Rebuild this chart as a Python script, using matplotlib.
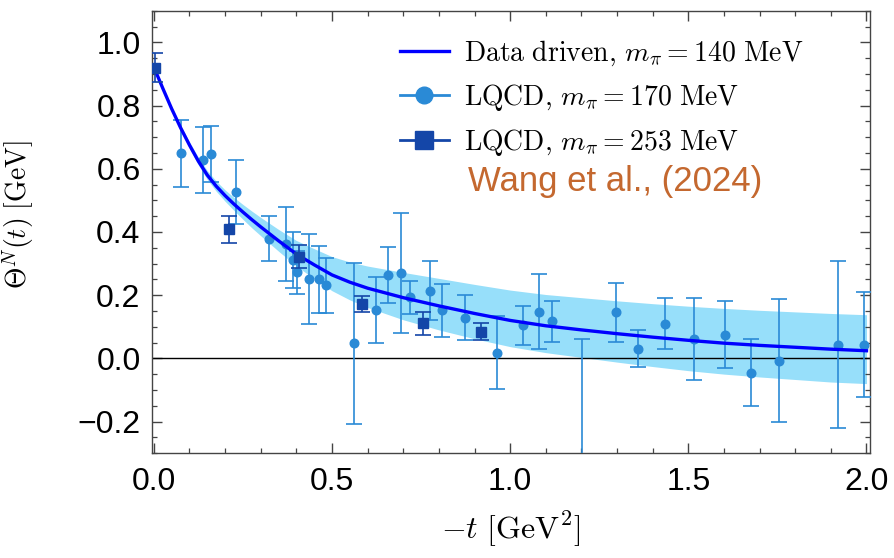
# Theta^N(t): data driven curve vs LQCD points
import matplotlib
matplotlib.use('Agg')
import matplotlib.pyplot as plt
from matplotlib.lines import Line2D
from matplotlib.ticker import MultipleLocator

plt.rcParams['font.family'] = ['Liberation Sans', 'DejaVu Sans']
plt.rcParams['mathtext.fontset'] = 'cm'

# data driven curve (m_pi = 140 MeV) with its band
t_curve = [0, 0.025, 0.05, 0.075, 0.1, 0.125, 0.15, 0.175, 0.2, 0.225, 0.25, 0.275, 0.3,
           0.35, 0.4, 0.45, 0.5, 0.55, 0.6, 0.7, 0.8, 0.9, 1.0, 1.1, 1.2, 1.3, 1.4, 1.5,
           1.6, 1.7, 1.8, 1.9, 2.0]
theta_curve = [0.922, 0.855, 0.790, 0.730, 0.675, 0.624, 0.580, 0.545, 0.515, 0.488, 0.463,
               0.439, 0.416, 0.372, 0.330, 0.296, 0.264, 0.241, 0.222, 0.192, 0.166, 0.142,
               0.120, 0.103, 0.090, 0.078, 0.067, 0.057, 0.048, 0.041, 0.035, 0.029, 0.024]
band_upper = [0.922, 0.859, 0.796, 0.738, 0.685, 0.636, 0.594, 0.561, 0.533, 0.509, 0.487,
              0.466, 0.446, 0.408, 0.373, 0.347, 0.322, 0.305, 0.292, 0.272, 0.253, 0.234,
              0.216, 0.202, 0.192, 0.182, 0.173, 0.165, 0.158, 0.152, 0.147, 0.142, 0.138]
band_lower = [0.922, 0.851, 0.784, 0.722, 0.665, 0.612, 0.566, 0.529, 0.497, 0.468, 0.440,
              0.413, 0.388, 0.339, 0.292, 0.252, 0.214, 0.185, 0.161, 0.122, 0.090, 0.062,
              0.037, 0.018, 0.003, -0.012, -0.026, -0.039, -0.050, -0.059, -0.067, -0.075,
              -0.080]

# LQCD, m_pi = 170 MeV
t_170 = [0.075, 0.137, 0.160, 0.231, 0.324, 0.371, 0.391, 0.403, 0.436, 0.464, 0.482,
         0.561, 0.623, 0.656, 0.694, 0.719, 0.774, 0.808, 0.873, 0.962, 1.035, 1.081,
         1.117, 1.203, 1.297, 1.359, 1.434, 1.516, 1.604, 1.677, 1.755, 1.919, 1.993]
theta_170 = [0.649, 0.628, 0.647, 0.526, 0.379, 0.362, 0.312, 0.272, 0.252, 0.250, 0.231,
             0.047, 0.153, 0.264, 0.270, 0.193, 0.214, 0.152, 0.129, 0.018, 0.104, 0.148,
             0.117, -0.36, 0.146, 0.031, 0.109, 0.060, 0.075, -0.046, -0.007, 0.043, 0.043]
err_170 = [0.106, 0.105, 0.088, 0.102, 0.072, 0.117, 0.088, 0.067, 0.142, 0.105, 0.087,
           0.256, 0.106, 0.089, 0.190, 0.052, 0.093, 0.083, 0.072, 0.116, 0.061, 0.120,
           0.064, 0.42, 0.094, 0.060, 0.081, 0.130, 0.105, 0.106, 0.195, 0.265, 0.166]

# LQCD, m_pi = 253 MeV
t_253 = [0.004, 0.212, 0.406, 0.584, 0.755, 0.918]
theta_253 = [0.920, 0.408, 0.322, 0.173, 0.111, 0.084]
err_253 = [0.045, 0.044, 0.036, 0.025, 0.036, 0.027]

c_line = '#0000FF'
c_band = '#97DFFA'
c_170 = '#2A8AD6'
c_253 = '#1446A8'

fig = plt.figure(figsize=(8.94, 5.58), dpi=100)
ax = fig.add_axes([0.1697, 0.188, 0.8035, 0.7926])

ax.fill_between(t_curve, band_lower, band_upper, color=c_band, lw=0, zorder=1)
ax.axhline(0, color='black', lw=1.0, zorder=2)
ax.errorbar(t_170, theta_170, yerr=err_170, fmt='o', color=c_170, ms=6.2,
            elinewidth=1.2, capsize=5.5, capthick=1.2, zorder=3)
ax.plot(t_curve, theta_curve, color=c_line, lw=2.4, zorder=4)
ax.errorbar(t_253, theta_253, yerr=err_253, fmt='s', color=c_253, ms=7,
            elinewidth=1.2, capsize=5.5, capthick=1.2, zorder=5)

ax.set_xlim(-0.006, 2.01)
ax.set_ylim(-0.3, 1.1)
ax.xaxis.set_major_locator(MultipleLocator(0.5))
ax.xaxis.set_minor_locator(MultipleLocator(0.1))
ax.yaxis.set_major_locator(MultipleLocator(0.2))
ax.yaxis.set_minor_locator(MultipleLocator(0.05))
ax.tick_params(which='both', direction='in', top=True, right=True, color='#444444')
ax.tick_params(which='major', length=7, width=1.0, labelsize=23)
ax.tick_params(which='minor', length=3.5, width=0.9)
ax.tick_params(axis='x', which='major', pad=10)
ax.tick_params(axis='y', which='major', pad=8)
for s in ax.spines.values():
    s.set_color('#444444')
    s.set_linewidth(1.0)

ax.set_xlabel(r'$-t\ [\mathrm{GeV}^2]$', fontsize=23, labelpad=9)
ax.set_ylabel(r'$\Theta^N(t)\ [\mathrm{GeV}]$', fontsize=20, labelpad=10)
ax.yaxis.set_label_coords(-0.16, 0.54)

handles = [
    Line2D([], [], color=c_line, lw=2.4),
    Line2D([], [], color=c_170, lw=2, marker='o', ms=12),
    Line2D([], [], color=c_253, lw=2, marker='s', ms=13),
]
labels = [
    r'$\mathrm{Data\ driven,}\,m_\pi = 140\ \mathrm{MeV}$',
    r'$\mathrm{LQCD,}\,m_\pi = 170\ \mathrm{MeV}$',
    r'$\mathrm{LQCD,}\,m_\pi = 253\ \mathrm{MeV}$',
]
ax.legend(handles, labels, loc='upper left', bbox_to_anchor=(0.3457, 0.937), frameon=False,
          fontsize=20, handlelength=1.75, handletextpad=0.55, labelspacing=0.5,
          borderpad=0, borderaxespad=0)
ax.text(0.44, 0.615, 'Wang et al., (2024)', transform=ax.transAxes, color='#C4682F',
        fontsize=25, ha='left', va='center')

fig.savefig('out.png', dpi=100)
